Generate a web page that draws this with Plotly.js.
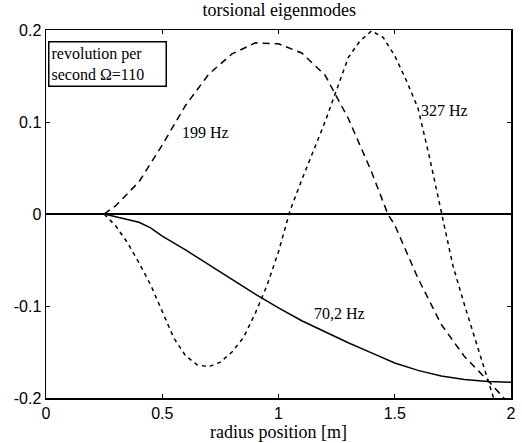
<!DOCTYPE html>
<html>
<head>
<meta charset="utf-8">
<script src="https://cdn.plot.ly/plotly-3.0.1.min.js"></script>
<style>html,body{margin:0;padding:0;background:#fff;}#chart{width:522px;height:443px;}</style>
</head>
<body>
<div id="chart"></div>
<script>
// 70,2 Hz mode (solid)
const x70 = [0.25, 0.3, 0.4, 0.45, 0.5, 0.6, 0.7, 0.8, 0.9, 1.0, 1.1, 1.2, 1.3, 1.4, 1.5, 1.6, 1.7, 1.8, 1.9, 2.0];
const y70 = [0, -0.003, -0.009, -0.015, -0.024, -0.039, -0.055, -0.071, -0.087, -0.102, -0.116, -0.128, -0.140, -0.151, -0.162, -0.170, -0.176, -0.180, -0.182, -0.183];
// 199 Hz mode (long dashes)
const x199 = [0.25, 0.3, 0.4, 0.5, 0.6, 0.7, 0.8, 0.9, 1.0, 1.1, 1.2, 1.3, 1.4, 1.47, 1.5, 1.6, 1.7, 1.8, 1.9, 1.97];
const y199 = [0, 0.009, 0.035, 0.075, 0.118, 0.152, 0.174, 0.186, 0.185, 0.175, 0.151, 0.104, 0.046, 0.0, -0.012, -0.070, -0.120, -0.155, -0.181, -0.2];
// 327 Hz mode (short dashes)
const x327 = [0.25, 0.3, 0.35, 0.4, 0.45, 0.5, 0.55, 0.6, 0.65, 0.7, 0.75, 0.8, 0.85, 0.9, 0.95, 1.0, 1.05, 1.1, 1.15, 1.2, 1.25, 1.3, 1.35, 1.4, 1.45, 1.5, 1.55, 1.6, 1.65, 1.7, 1.75, 1.8, 1.85, 1.9, 1.925];
const y327 = [0, -0.013, -0.031, -0.053, -0.077, -0.107, -0.135, -0.154, -0.164, -0.166, -0.161, -0.150, -0.134, -0.108, -0.078, -0.041, 0.004, 0.037, 0.068, 0.100, 0.135, 0.170, 0.188, 0.199, 0.192, 0.172, 0.145, 0.115, 0.061, 0.001, -0.056, -0.099, -0.140, -0.180, -0.2];

const labels = [
  {text: '199 Hz', x: 0.684, y: 0.089},
  {text: '327 Hz', x: 1.716, y: 0.112},
  {text: '70,2 Hz', x: 1.262, y: -0.108}
];
const titleText = 'torsional eigenmodes';
const xTitle = 'radius position [m]';
const boxText = 'revolution per<br>second \u03A9=110';
const xTicks = [0, 0.5, 1, 1.5, 2];
const xTickText = ['0', '0.5', '1', '1.5', '2'];
const yTicks = [-0.2, -0.1, 0, 0.1, 0.2];
const yTickText = ['-0.2', '-0.1', '0', '0.1', '0.2'];

const serif = 'Liberation Serif, Times New Roman, serif';
const sans = 'Liberation Sans, Arial, sans-serif';

const traces = [
  {x: x70, y: y70, mode: 'lines', line: {color: '#000', width: 1.5}, showlegend: false},
  {x: x199, y: y199, mode: 'lines', line: {color: '#000', width: 1.5, dash: '7px,5px'}, showlegend: false},
  {x: x327, y: y327, mode: 'lines', line: {color: '#000', width: 1.5, dash: '4px,4px'}, showlegend: false}
];

const annotations = labels.map(l => ({
  text: l.text, x: l.x, y: l.y, xref: 'x', yref: 'y', showarrow: false,
  font: {family: serif, size: 16, color: '#000'}
}));
annotations.push({
  text: boxText, xref: 'paper', yref: 'paper', x: 0.004, y: 0.97,
  xanchor: 'left', yanchor: 'top', align: 'left', showarrow: false,
  width: 112, height: 39,
  bordercolor: '#000', borderwidth: 1.5, borderpad: 2, bgcolor: '#fff',
  font: {family: serif, size: 16, color: '#000'}
});

const layout = {
  width: 522, height: 443,
  margin: {l: 46, r: 11, t: 30, b: 45},
  paper_bgcolor: '#fff', plot_bgcolor: '#fff',
  title: {text: titleText, font: {family: serif, size: 18, color: '#000'}, x: 0.535, xanchor: 'center', y: 0.993, yanchor: 'top'},
  xaxis: {
    range: [0, 2], tickvals: xTicks, ticktext: xTickText,
    ticks: 'inside', ticklen: 4, tickcolor: '#000', mirror: 'ticks',
    showline: true, linecolor: '#000', linewidth: 1.5, showgrid: false, zeroline: false,
    tickfont: {family: sans, size: 16, color: '#000'},
    title: {text: xTitle, font: {family: serif, size: 18, color: '#000'}, standoff: 2}
  },
  yaxis: {
    range: [-0.2, 0.2], tickvals: yTicks, ticktext: yTickText,
    ticks: 'inside', ticklen: 4, tickcolor: '#000', mirror: 'ticks',
    showline: true, linecolor: '#000', linewidth: 1.5, showgrid: false,
    zeroline: true, zerolinecolor: '#000', zerolinewidth: 2,
    tickfont: {family: sans, size: 16, color: '#000'}
  },
  annotations: annotations
};

Plotly.newPlot('chart', traces, layout, {displayModeBar: false, staticPlot: true});
</script>
</body>
</html>
